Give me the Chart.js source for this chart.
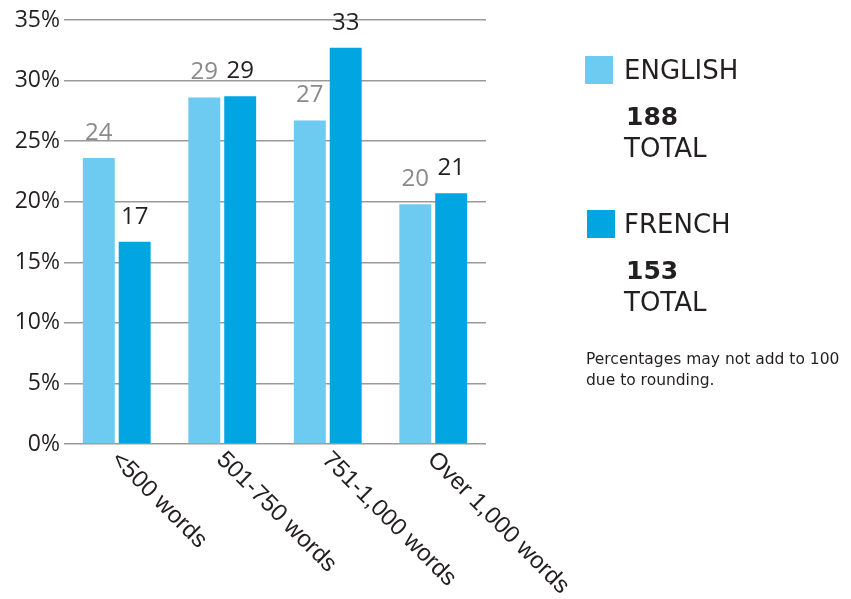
<!DOCTYPE html>
<html lang="en">
<head>
  <meta charset="UTF-8" />
  <title>Length by language</title>
  <script src="https://cdn.jsdelivr.net/npm/chart.js"></script>
  <style>
    body {
      margin: 0;
      background: #ffffff;
    }
    .wrap {
      position: relative;
      width: 851px;
      height: 599px;
    }
    .legend {
      position: absolute;
      left: 0;
      top: 0;
      font-family: "DejaVu Sans", sans-serif;
      color: #231f20;
    }
    .swatch {
      position: absolute;
      width: 28px;
      height: 28px;
    }
    .lang {
      position: absolute;
      font-size: 26px;
      line-height: 26px;
      white-space: nowrap;
    }
    .count {
      position: absolute;
      font-size: 25px;
      line-height: 25px;
      font-weight: bold;
    }
    .total {
      position: absolute;
      font-size: 26px;
      line-height: 26px;
    }
    .note {
      position: absolute;
      left: 586px;
      top: 349px;
      font-family: "DejaVu Sans", sans-serif;
      font-size: 15.5px;
      line-height: 21px;
      color: #231f20;
      white-space: nowrap;
    }
  </style>
</head>
<body>
  <div class="wrap">
    <canvas id="lengthChart"></canvas>
    <div class="legend" id="legend"></div>
    <div class="note">Percentages may not add to 100<br>due to rounding.</div>
  </div>

  <script>
    const categories = ['<500 words', '501-750 words', '751-1,000 words', 'Over 1,000 words'];
    const englishValues = [23.6, 28.6, 26.7, 19.8];
    const frenchValues = [16.7, 28.7, 32.7, 20.7];
    const englishLabels = [24, 29, 27, 20];
    const frenchLabels = [17, 29, 33, 21];
    const seriesNames = ['ENGLISH', 'FRENCH'];
    const seriesTotals = [188, 153];

    const lightBlue = '#6dcaf0';
    const darkBlue = '#00a5e1';

    // legend on the right, built from the arrays above
    const legendBox = document.getElementById('legend');
    const legendTops = [57, 211];
    const swatchLefts = [585, 587];
    [lightBlue, darkBlue].forEach((color, i) => {
      const top = legendTops[i];
      legendBox.innerHTML +=
        '<div class="swatch" style="left:' + swatchLefts[i] + 'px;top:' + (top - 1) + 'px;background:' + color + '"></div>' +
        '<div class="lang" style="left:624px;top:' + top + 'px">' + seriesNames[i] + '</div>' +
        '<div class="count" style="left:626px;top:' + (top + 47) + 'px">' + seriesTotals[i] + '</div>' +
        '<div class="total" style="left:624px;top:' + (top + 78) + 'px">TOTAL</div>';
    });

    // value labels above each bar
    const valueLabels = {
      id: 'valueLabels',
      afterDatasetsDraw(chart) {
        const ctx = chart.ctx;
        const sets = [
          { labels: englishLabels, color: '#8a8a8a' },
          { labels: frenchLabels, color: '#231f20' }
        ];
        ctx.save();
        ctx.font = '24px "Open Sans", sans-serif';
        ctx.textAlign = 'center';
        ctx.textBaseline = 'bottom';
        sets.forEach((s, d) => {
          chart.getDatasetMeta(d).data.forEach((bar, i) => {
            ctx.fillStyle = s.color;
            ctx.fillText(String(s.labels[i]), bar.x, bar.y - 13);
          });
        });
        ctx.restore();
      }
    };

    // diagonal category labels running down to the right
    const slantedLabels = {
      id: 'slantedLabels',
      afterDraw(chart) {
        const ctx = chart.ctx;
        const xScale = chart.scales.x;
        const bottom = chart.chartArea.bottom;
        ctx.save();
        ctx.font = '24px "Liberation Sans", Arial, sans-serif';
        ctx.fillStyle = '#231f20';
        ctx.textAlign = 'left';
        ctx.textBaseline = 'middle';
        categories.forEach((label, i) => {
          const x = xScale.getPixelForTick(i);
          ctx.save();
          ctx.translate(x - 2, bottom + 12);
          ctx.rotate(Math.PI / 4);
          ctx.fillText(label, 0, 0);
          ctx.restore();
        });
        ctx.restore();
      }
    };

    const ctx = document.getElementById('lengthChart').getContext('2d');
    new Chart(ctx, {
      type: 'bar',
      data: {
        labels: categories,
        datasets: [
          {
            label: seriesNames[0],
            data: englishValues,
            backgroundColor: lightBlue,
            categoryPercentage: 0.68,
            barPercentage: 0.89
          },
          {
            label: seriesNames[1],
            data: frenchValues,
            backgroundColor: darkBlue,
            categoryPercentage: 0.68,
            barPercentage: 0.89
          }
        ]
      },
      options: {
        responsive: true,
        maintainAspectRatio: false,
        animation: false,
        layout: {
          padding: { top: 20, right: 365, bottom: 147, left: 0 }
        },
        plugins: {
          legend: { display: false },
          tooltip: { enabled: false }
        },
        scales: {
          x: {
            grid: { display: false },
            border: { display: false },
            ticks: { display: false }
          },
          y: {
            min: 0,
            max: 35,
            border: { display: false },
            grid: { color: '#9a9a9a', lineWidth: 1.5, drawTicks: false },
            afterFit(scale) { scale.width = 64; },
            ticks: {
              stepSize: 5,
              padding: 4,
              color: '#231f20',
              font: { family: '"Open Sans", sans-serif', size: 23 },
              callback: v => v + '%'
            }
          }
        }
      },
      plugins: [valueLabels, slantedLabels]
    });
  </script>
</body>
</html>
